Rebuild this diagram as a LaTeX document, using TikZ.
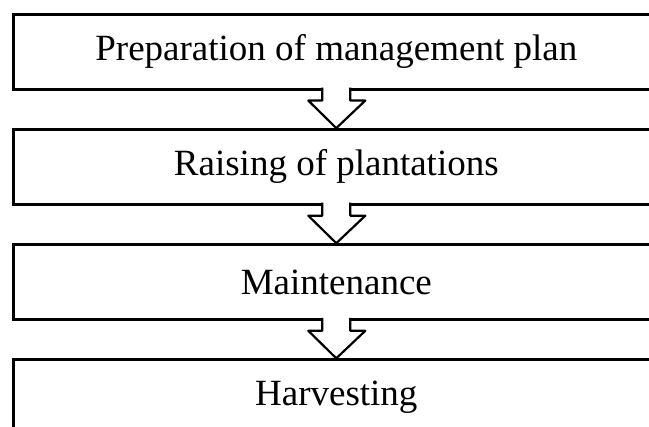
\documentclass[tikz,border=0pt]{standalone}
\usepackage{fontspec}
\setmainfont{Liberation Serif}
\usetikzlibrary{positioning,calc}

\begin{document}
\begin{tikzpicture}[x=1pt,y=1pt,
  stage/.style={draw,line width=2.6pt,fill=white,minimum height=75pt,minimum width=646pt,font=\fontsize{37}{44}\selectfont},
  flow/.style={draw,line width=2.2pt,fill=white,line join=round}]
  \clip (0,0) rectangle (649,-427);
  \node[stage,anchor=north west] at (12,-13) (prep) {Preparation of management plan};
  \node[stage,below=37.5pt of prep]  (raise) {Raising of plantations};
  \node[stage,below=37.5pt of raise] (maint) {Maintenance};
  \node[stage,below=37.5pt of maint] (harv)  {Harvesting};

  \foreach \from/\to in {prep/raise,raise/maint,maint/harv}
    \draw[flow] ($(\from.south)+(-14,3)$) -- ++(0,-13) -- ++(-14,0) -- (\to.north)
      -- ($(\from.south)+(29,-10)$) -- ++(-15,0) -- ++(0,13);
\end{tikzpicture}
\end{document}
